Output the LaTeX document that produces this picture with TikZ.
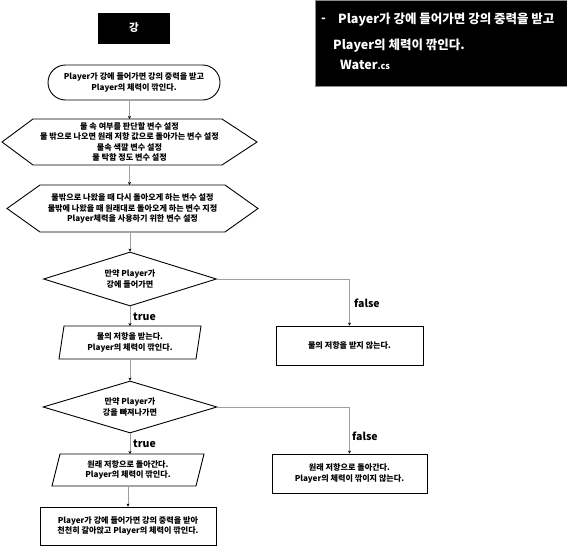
\documentclass[tikz,border=0pt]{standalone}
\usepackage{fontspec}
\setmainfont{Noto Sans CJK KR}
\usetikzlibrary{arrows.meta,calc,shapes.geometric,shapes.misc}
\tikzset{
  txt/.style={font=\bfseries\fontsize{8.1}{10.6}\selectfont, align=center},
  frame/.style={draw=black, line width=0.9pt},
  ghost/.style={txt, inner sep=0pt, outer sep=0pt},
  boxnode/.style={frame, txt, inner sep=0pt},
  arr/.style={draw=black!38, line width=0.8pt, -{Stealth[length=3pt,width=3pt,color=black]}},
  lbl/.style={font=\bfseries\fontsize{10.5}{12}\selectfont, anchor=west, inner sep=0pt},
  big/.style={font=\bfseries\fontsize{12.5}{14}\selectfont, text=white, anchor=west, inner sep=0pt}
}
\begin{document}
\begin{tikzpicture}[x=1pt,y=-1pt]
\useasboundingbox (0,0) rectangle (567,546);
% top-right note
\node[fill=black, draw=black!45, line width=0.6pt, minimum width=252pt, minimum height=86pt, inner sep=0pt, anchor=north west] (note) at (315,0) {};
\node[big] (dash) at (321,20) {-};
\node[big] (n1) at (338,20) {Player가 강에 들어가면 강의 중력을 받고};
\node[big] (n2) at (333,46) {Player의 체력이 깎인다.};
\node[big] (n3) at (340,65) {Water{\fontsize{9}{11}\selectfont.cs}};
% title
\node[fill=black, text=white, font=\bfseries\fontsize{10.5}{12}\selectfont, minimum width=72pt, minimum height=31pt, inner sep=0pt] (title) at (134,28) {강};
% start
\node[rounded rectangle, frame, txt, minimum width=172pt, minimum height=35pt, inner sep=0pt] (start) at (134,82.5) {Player가 강에 들어가면 강의 중력을 받고\\Player의 체력이 깎인다.};
% hexagon 1
\node[ghost, minimum width=255pt, minimum height=46pt] (hex1) at (129.5,142) {물 속 여부를 판단할 변수 설정\\물 밖으로 나오면 원래 저항 값으로 돌아가는 변수 설정\\물속 색깔 변수 설정\\물 탁함 정도 변수 설정};
\draw[frame] (hex1.west) -- ($(hex1.north west)+(31,0)$) -- ($(hex1.north east)+(-35,0)$) -- (hex1.east) -- ($(hex1.south east)+(-35,0)$) -- ($(hex1.south west)+(31,0)$) -- cycle;
% hexagon 2
\node[ghost, minimum width=251pt, minimum height=47pt] (hex2) at (132.5,208.5) {물밖으로 나왔을 때 다시 돌아오게 하는 변수 설정\\물밖에 나왔을 때 원래대로 돌아오게 하는 변수 지정\\Player체력을 사용하기 위한 변수 설정};
\draw[frame] (hex2.west) -- ($(hex2.north west)+(33,0)$) -- ($(hex2.north east)+(-33,0)$) -- (hex2.east) -- ($(hex2.south east)+(-33,0)$) -- ($(hex2.south west)+(33,0)$) -- cycle;
% decision 1
\node[diamond, frame, txt, minimum width=173pt, minimum height=54pt, aspect=3.2, inner sep=0pt] (dia1) at (130,279) {만약 Player가\\강에 들어가면};
% parallelogram 1
\node[ghost, minimum width=142pt, minimum height=33pt] (par1) at (130,342.5) {물의 저항을 받는다.\\Player의 체력이 깎인다.};
\draw[frame] ($(par1.north west)+(5,0)$) -- (par1.north east) -- ($(par1.south east)+(-5,0)$) -- (par1.south west) -- cycle;
% false box 1
\node[boxnode, minimum width=147pt, minimum height=39pt] (bf1) at (349.5,345.5) {물의 저항을 받지 않는다.};
% decision 2
\node[diamond, frame, txt, minimum width=174pt, minimum height=52pt, aspect=3.3, inner sep=0pt] (dia2) at (130,407) {만약 Player가\\강을 빠져나가면};
% parallelogram 2
\node[ghost, minimum width=152pt, minimum height=32pt] (par2) at (128,470) {원래 저항으로 돌아간다.\\Player의 체력이 깎인다.};
\draw[frame] ($(par2.north west)+(8,0)$) -- (par2.north east) -- ($(par2.south east)+(-8,0)$) -- (par2.south west) -- cycle;
% false box 2
\node[boxnode, minimum width=155pt, minimum height=39pt] (bf2) at (349.5,473.5) {원래 저항으로 돌아간다.\\Player의 체력이 깎이지 않는다.};
% final box
\node[boxnode, minimum width=176pt, minimum height=38pt] (fin) at (128,526) {Player가 강에 들어가면 강의 중력을 받아\\천천히 갈아앉고 Player의 체력이 깎인다.};
% connectors
\draw[arr] (hex1.north |- start.south) -- (hex1.north);
\draw[arr] (hex1.south) -- (hex1.south |- hex2.north);
\draw[arr] (dia1.north |- hex2.south) -- (dia1.north);
\draw[arr] (dia1.south) -- (par1.north);
\draw[arr] (dia1.east) -| (bf1.north);
\draw[arr] (par1.south) -- (dia2.north);
\draw[arr] (dia2.south) -- (dia2.south |- par2.north);
\draw[arr] (dia2.east) -| (bf2.north);
\draw[arr] (fin.north |- par2.south) -- (fin.north);
% labels
\node[lbl] (t1) at (133,317) {true};
\node[lbl] (f1) at (354,303) {false};
\node[lbl] (t2) at (133,444) {true};
\node[lbl] (f2) at (352,436) {false};
\end{tikzpicture}
\end{document}
